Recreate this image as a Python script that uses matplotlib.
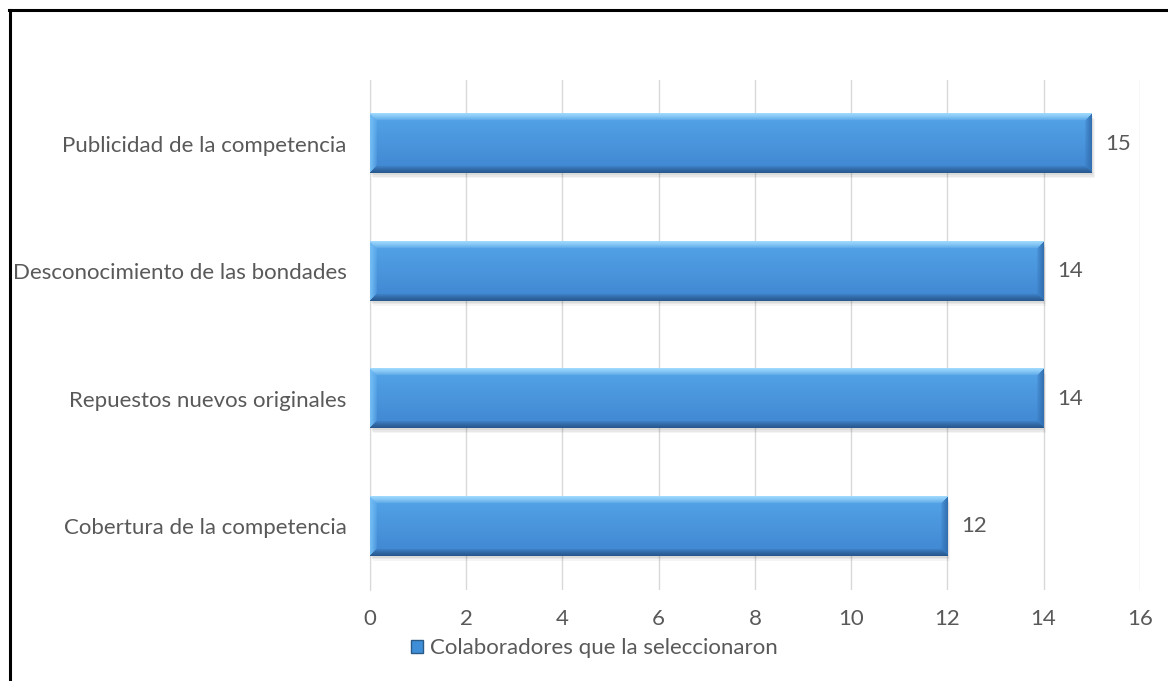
import numpy as np
import matplotlib.pyplot as plt
from matplotlib.patches import Rectangle
from matplotlib.lines import Line2D

# Factores y número de colaboradores que los seleccionaron
categorias = ["Cobertura de la competencia", "Repuestos nuevos originales",
              "Desconocimiento de las bondades", "Publicidad de la competencia"]
valores = [12, 14, 14, 15]
ticks_x = [0, 2, 4, 6, 8, 10, 12, 14, 16]
serie = "Colaboradores que la seleccionaron"

plt.rcParams['font.family'] = ['Lato', 'DejaVu Sans']
gris = "#595959"
fs = 16

fig = plt.figure(figsize=(11.68, 6.81), dpi=100)
ax = fig.add_axes([0.3168, 0.1336, 0.659, 0.749])

# marco del gráfico (solo se ven los bordes izquierdo y superior)
fig.add_artist(Line2D([0.0085, 0.0085], [0, 0.986], transform=fig.transFigure,
                      color="black", lw=2.2))
fig.add_artist(Line2D([0.0075, 1.0], [0.986, 0.986], transform=fig.transFigure,
                      color="black", lw=2.2))

alto = 0.465


def textura_barra(nx, ny, b=7.0):
    # degradado vertical con bisel suave en los bordes
    t = np.linspace(0, 1, ny)[:, None, None]
    top = np.array([0.33, 0.64, 0.91])
    bot = np.array([0.25, 0.53, 0.82])
    img = top + (bot - top) * t
    img = np.broadcast_to(img, (ny, nx, 3)).copy()
    yy, xx = np.mgrid[0:ny, 0:nx].astype(float)
    d = np.stack([yy, ny - 1 - yy, xx, nx - 1 - xx])
    lado = np.argmin(d, axis=0)
    w = np.clip(1 - d.min(axis=0) / b, 0, 1)[..., None] ** 0.8
    colores = [np.array([0.62, 0.85, 0.99]),   # arriba, claro
               np.array([0.16, 0.35, 0.56]),   # abajo, oscuro
               np.array([0.45, 0.74, 0.96]),   # izquierda
               np.array([0.20, 0.44, 0.70])]   # derecha
    for k, c in enumerate(colores):
        m = (lado == k)[..., None]
        img = np.where(m, img * (1 - w) + c * w, img)
    return np.clip(img, 0, 1)


for i, v in enumerate(valores):
    # sombra difusa bajo la barra
    for k, a in enumerate([0.06, 0.05, 0.04]):
        ax.add_patch(Rectangle((0.02 + 0.02 * k, i - alto / 2 - 0.015 - 0.012 * k), v, alto,
                               color="#000000", alpha=a, lw=0, zorder=2))
    nx = int(v * 48)
    ny = 59
    ax.imshow(textura_barra(nx, ny), extent=(0, v, i - alto / 2, i + alto / 2),
              aspect="auto", origin="upper", zorder=3, interpolation="bilinear")
    ax.annotate(str(v), (v, i), xytext=(10, 0), textcoords="offset points",
                va="center", ha="left", fontsize=fs, color=gris)

ax.set_xlim(0, 16)
ax.set_ylim(-0.5, 3.5)
ax.set_xticks(ticks_x)
ax.set_yticks(range(len(categorias)))
ax.set_yticklabels(categorias)
ax.tick_params(axis="both", length=0, labelsize=fs, colors=gris)
ax.tick_params(axis="x", pad=14)
ax.tick_params(axis="y", pad=17)
ax.grid(axis="x", color="#d9d9d9", lw=1)
ax.set_axisbelow(True)
for s in ["top", "right", "bottom"]:
    ax.spines[s].set_visible(False)
ax.spines["left"].set_color("#d9d9d9")

marca = Rectangle((0, 0), 1, 1, facecolor="#3f8fd8", edgecolor="#2a5a88")
fig.legend([marca], [serie], loc="center", bbox_to_anchor=(0.509, 0.048),
           frameon=False, fontsize=fs, labelcolor=gris, handlelength=0.55,
           handleheight=0.55, handletextpad=0.3)

fig.savefig("out.png", dpi=100)
